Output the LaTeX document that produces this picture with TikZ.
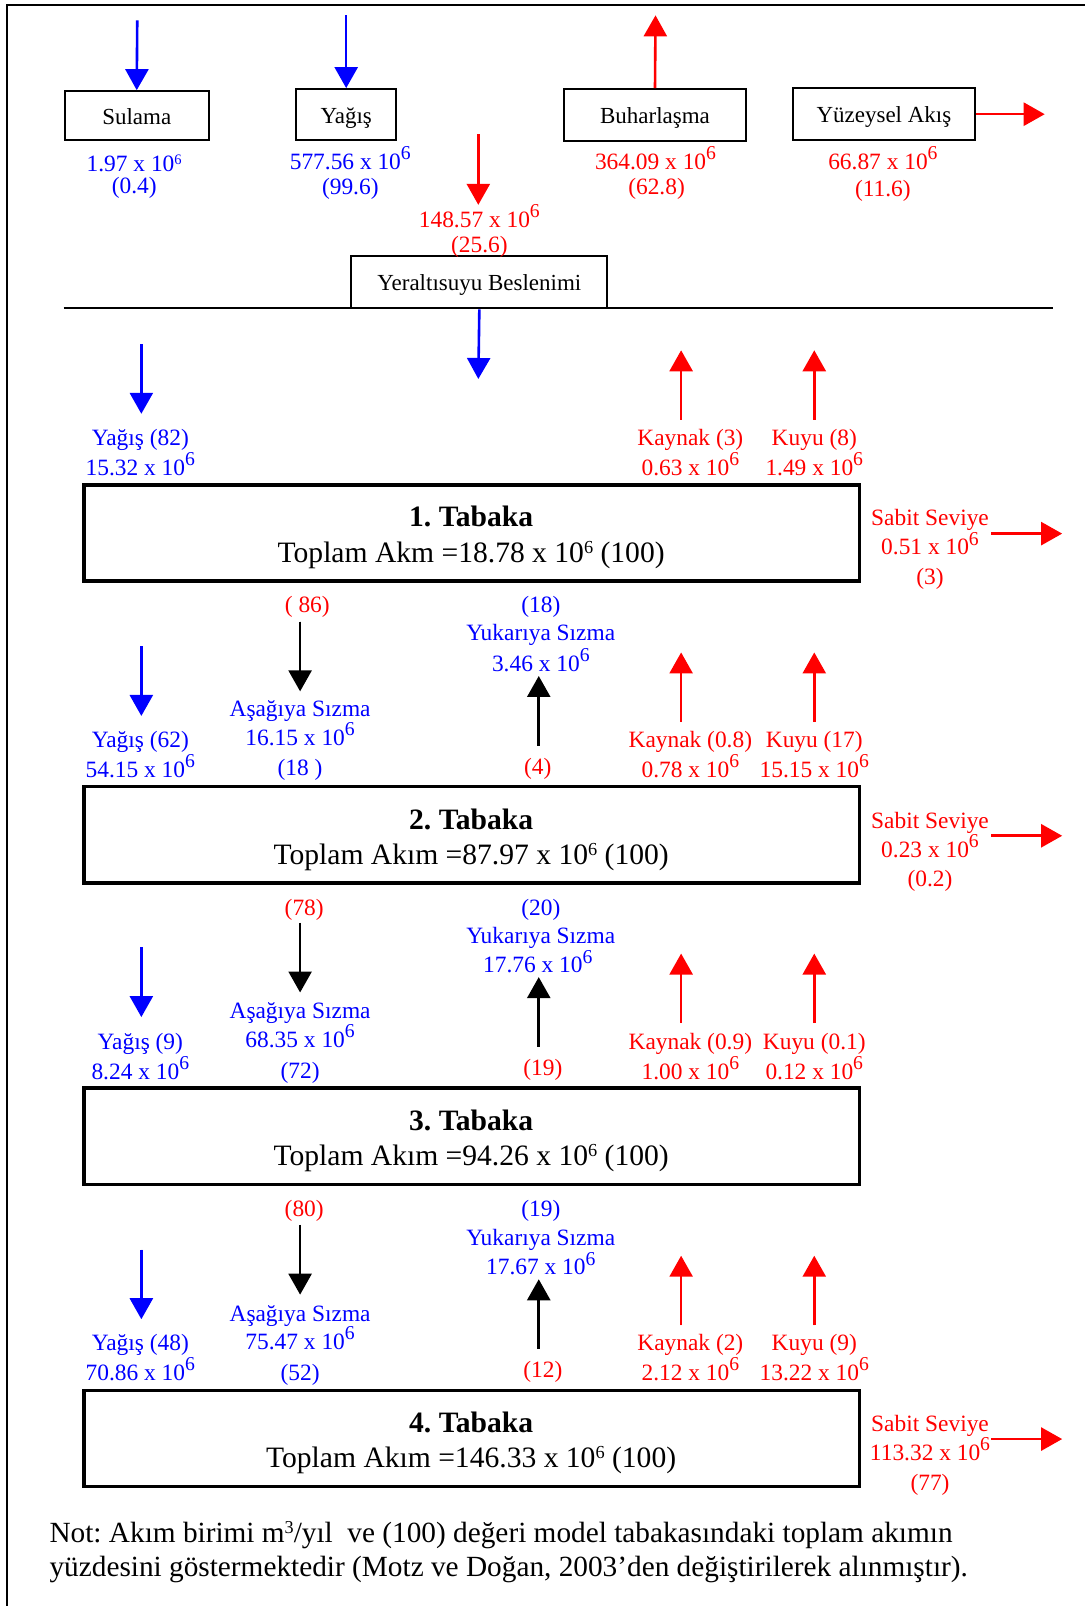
\documentclass[tikz,border=0pt]{standalone}
\usepackage{fontspec}
\setmainfont{Liberation Serif}
\usetikzlibrary{arrows.meta}
\definecolor{fblue}{RGB}{0,0,255}
\definecolor{fred}{RGB}{255,0,0}
\frenchspacing

% large and small superscripts
\newcommand\bsix{\raisebox{.42em}{\scalebox{.84}{6}}}
\newcommand\ssup[1]{\raisebox{.3em}{\scalebox{.62}{#1}}}
\newcommand\ssix{\ssup{6}}

% arrow between two named coordinates: style, name, start, end
\newcommand\flowarrow[4]{%
  \coordinate (#2-s) at (#3);
  \coordinate (#2-e) at (#4);
  \draw[#1] (#2-s) -- (#2-e);}

\begin{document}
\begin{tikzpicture}[x=0.5123pt,y=-0.5123pt,
  lbl/.style={inner sep=0pt, text height=0.8em, text depth=0pt,
              font=\fontsize{11.7}{14}\selectfont},
  blbl/.style={lbl, text=fblue},
  rlbl/.style={lbl, text=fred},
  srcbox/.style 2 args={draw, line width=1pt, inner sep=0pt,
              minimum width=#1*0.5123pt, minimum height=#2*0.5123pt,
              text height=0.84em, text depth=0pt,
              font=\fontsize{11.5}{14}\selectfont},
  layerbox/.style={draw, line width=1.8pt, inner sep=0pt,
              minimum width=757*0.5123pt, minimum height=94*0.5123pt},
  ttl/.style={inner sep=0pt, text height=0.72em, text depth=0pt,
              font=\fontsize{14.8}{17}\selectfont},
  note/.style={inner sep=0pt, text height=0.72em, text depth=0pt, anchor=west,
              font=\fontsize{14.65}{17}\selectfont},
  tip/.style={-{Triangle[length=10.5pt,width=11.5pt]}, line width=1.3pt},
  barr/.style={tip, draw=fblue, fill=fblue},
  rarr/.style={tip, draw=fred, fill=fred},
  karr/.style={tip, draw=black, fill=black}
]
\useasboundingbox (0,0) rectangle (1059,1568);

% page frame (left and top edges)
\coordinate (fr-bl) at (7,1568);
\coordinate (fr-tl) at (7,5);
\coordinate (fr-tr) at (1059,5);
\draw[line width=1pt] (fr-bl) -- (fr-tl) -- (fr-tr);

% ---------------- surface budget ----------------
\node[srcbox={141}{48}] (sul) at (133.5,113) {Sulama};
\node[srcbox={98}{50}] (yag) at (338,112) {Yağış};
\node[srcbox={177}{51}] (buh) at (639.5,112.5) {Buharlaşma};
\node[srcbox={178}{51}] (yuz) at (863,111.5) {Yüzeysel Akış};
\node[srcbox={250}{51}] (ybs) at (468,275.5) {Yeraltısuyu Beslenimi};

\coordinate (sul-in) at (134,20);
\draw[barr] (sul-in) -- (sul.north);
\coordinate (yag-in) at (338,15);
\draw[barr] (yag-in) -- (yag.north);
\coordinate (buh-out) at (640,15);
\draw[rarr] (buh.north) -- (buh-out);
\coordinate (yuz-out) at (1020,111.5);
\draw[rarr] (yuz.east) -- (yuz-out);
\flowarrow{rarr}{rech}{467,131}{467,200}

% ground surface line and recharge to layer 1
\coordinate (gl-w) at (62,301);
\coordinate (gl-e) at (1028,301);
\draw[line width=1pt] (gl-w) -- (gl-e);
\coordinate (ybs-out) at (467,370);
\draw[barr] (ybs.south) -- (ybs-out);

\node[blbl] (sul-v) at (131,160) {1.97 x 10\ssix};
\node[blbl] (sul-p) at (131,181) {(0.4)};
\node[blbl] (yag-v) at (342,158) {577.56 x 10\bsix};
\node[blbl] (yag-p) at (342,182) {(99.6)};
\node[rlbl] (buh-v) at (640,158) {364.09 x 10\bsix};
\node[rlbl] (buh-p) at (641,182) {(62.8)};
\node[rlbl] (yuz-v) at (862,158) {66.87 x 10\bsix};
\node[rlbl] (yuz-p) at (862,184) {(11.6)};
\node[rlbl] (rech-v) at (468,214) {148.57 x 10\bsix};
\node[rlbl] (rech-p) at (468,239) {(25.6)};

% ---------------- layer boxes ----------------
\node[layerbox] (t1) at (460.5,520.5) {};
\node[layerbox] (t2) at (460.5,815) {};
\node[layerbox] (t3) at (460.5,1109.5) {};
\node[layerbox] (t4) at (460.5,1404.5) {};

\node[ttl] (t1a) at (460,507) {\bfseries 1. Tabaka};
\node[ttl] (t1b) at (460,542) {Toplam Akm =18.78 x 10\ssix{} (100)};
\node[ttl] (t2a) at (460,803) {\bfseries 2. Tabaka};
\node[ttl] (t2b) at (460,837) {Toplam Akım =87.97 x 10\ssix{} (100)};
\node[ttl] (t3a) at (460,1097) {\bfseries 3. Tabaka};
\node[ttl] (t3b) at (460,1131) {Toplam Akım =94.26 x 10\ssix{} (100)};
\node[ttl] (t4a) at (460,1392) {\bfseries 4. Tabaka};
\node[ttl] (t4b) at (460,1426) {Toplam Akım =146.33 x 10\ssix{} (100)};

% ---------------- arrows above each layer ----------------
% rain, spring and well arrows (all layers)
\foreach \L/\T in {1/473, 2/768, 3/1062, 4/1357} {
  \flowarrow{barr}{rain\L}{138,{\T-137}}{138,{\T-69}}
  \flowarrow{rarr}{spr\L}{665,{\T-63}}{665,{\T-131}}
  \flowarrow{rarr}{well\L}{795,{\T-63}}{795,{\T-131}}
}
% leakage between layers
\foreach \L/\T in {2/768, 3/1062, 4/1357} {
  \flowarrow{karr}{down\L}{293,{\T-161}}{293,{\T-93}}
  \flowarrow{karr}{up\L}{526,{\T-40}}{526,{\T-108}}
}
% constant head outflow
\foreach \L/\T in {1/473, 2/768, 4/1357} {
  \flowarrow{rarr}{chd\L}{968,{\T+48}}{1037,{\T+48}}
}

% ---------------- layer 1 labels ----------------
\node[blbl] (r1a) at (137,427) {Yağış (82)};
\node[blbl] (r1b) at (137,456) {15.32 x 10\bsix};
\node[rlbl] (s1a) at (674,427) {Kaynak (3)};
\node[rlbl] (s1b) at (674,456) {0.63 x 10\bsix};
\node[rlbl] (w1a) at (795,427) {Kuyu (8)};
\node[rlbl] (w1b) at (795,456) {1.49 x 10\bsix};
\node[rlbl] (c1a) at (908,505) {Sabit Seviye};
\node[rlbl] (c1b) at (908,534) {0.51 x 10\bsix};
\node[rlbl] (c1c) at (908,563) {(3)};

% ---------------- layer 2 labels ----------------
\node[rlbl] (d2a) at (300,590) {( 86)};
\node[blbl] (d2b) at (293,692) {Aşağıya Sızma};
\node[blbl] (d2c) at (293,720) {16.15 x 10\bsix};
\node[blbl] (d2d) at (293,749) {(18 )};
\node[blbl] (u2a) at (528,590) {(18)};
\node[blbl] (u2b) at (528,618) {Yukarıya Sızma};
\node[blbl] (u2c) at (528,648) {3.46 x 10\bsix};
\node[rlbl] (u2d) at (525,748) {(4)};
\node[blbl] (r2a) at (137,722) {Yağış (62)};
\node[blbl] (r2b) at (137,751) {54.15 x 10\bsix};
\node[rlbl] (s2a) at (674,722) {Kaynak (0.8)};
\node[rlbl] (s2b) at (674,751) {0.78 x 10\bsix};
\node[rlbl] (w2a) at (795,722) {Kuyu (17)};
\node[rlbl] (w2b) at (795,751) {15.15 x 10\bsix};
\node[rlbl] (c2a) at (908,801) {Sabit Seviye};
\node[rlbl] (c2b) at (908,829) {0.23 x 10\bsix};
\node[rlbl] (c2c) at (908,858) {(0.2)};

% ---------------- layer 3 labels ----------------
\node[rlbl] (d3a) at (297,886) {(78)};
\node[blbl] (d3b) at (293,987) {Aşağıya Sızma};
\node[blbl] (d3c) at (293,1015) {68.35 x 10\bsix};
\node[blbl] (d3d) at (293,1045) {(72)};
\node[blbl] (u3a) at (528,886) {(20)};
\node[blbl] (u3b) at (528,913) {Yukarıya Sızma};
\node[blbl] (u3c) at (525,942) {17.76 x 10\bsix};
\node[rlbl] (u3d) at (530,1042) {(19)};
\node[blbl] (r3a) at (137,1017) {Yağış (9)};
\node[blbl] (r3b) at (137,1046) {8.24 x 10\bsix};
\node[rlbl] (s3a) at (674,1017) {Kaynak (0.9)};
\node[rlbl] (s3b) at (674,1046) {1.00 x 10\bsix};
\node[rlbl] (w3a) at (795,1017) {Kuyu (0.1)};
\node[rlbl] (w3b) at (795,1046) {0.12 x 10\bsix};

% ---------------- layer 4 labels ----------------
\node[rlbl] (d4a) at (297,1180) {(80)};
\node[blbl] (d4b) at (293,1282) {Aşağıya Sızma};
\node[blbl] (d4c) at (293,1310) {75.47 x 10\bsix};
\node[blbl] (d4d) at (293,1340) {(52)};
\node[blbl] (u4a) at (528,1180) {(19)};
\node[blbl] (u4b) at (528,1208) {Yukarıya Sızma};
\node[blbl] (u4c) at (528,1237) {17.67 x 10\bsix};
\node[rlbl] (u4d) at (530,1337) {(12)};
\node[blbl] (r4a) at (137,1311) {Yağış (48)};
\node[blbl] (r4b) at (137,1340) {70.86 x 10\bsix};
\node[rlbl] (s4a) at (674,1311) {Kaynak (2)};
\node[rlbl] (s4b) at (674,1340) {2.12 x 10\bsix};
\node[rlbl] (w4a) at (795,1311) {Kuyu (9)};
\node[rlbl] (w4b) at (795,1340) {13.22 x 10\bsix};
\node[rlbl] (c4a) at (908,1390) {Sabit Seviye};
\node[rlbl] (c4b) at (908,1418) {113.32 x 10\bsix};
\node[rlbl] (c4c) at (908,1447) {(77)};

% ---------------- footnote ----------------
\node[note] (n1) at (48,1499) {Not: Akım birimi m\ssup{3}/yıl\ \ ve (100) değeri model tabakasındaki toplam akımın};
\node[note] (n2) at (48,1532) {yüzdesini göstermektedir (Motz ve Doğan, 2003’den değiştirilerek alınmıştır).};
\end{tikzpicture}
\end{document}
